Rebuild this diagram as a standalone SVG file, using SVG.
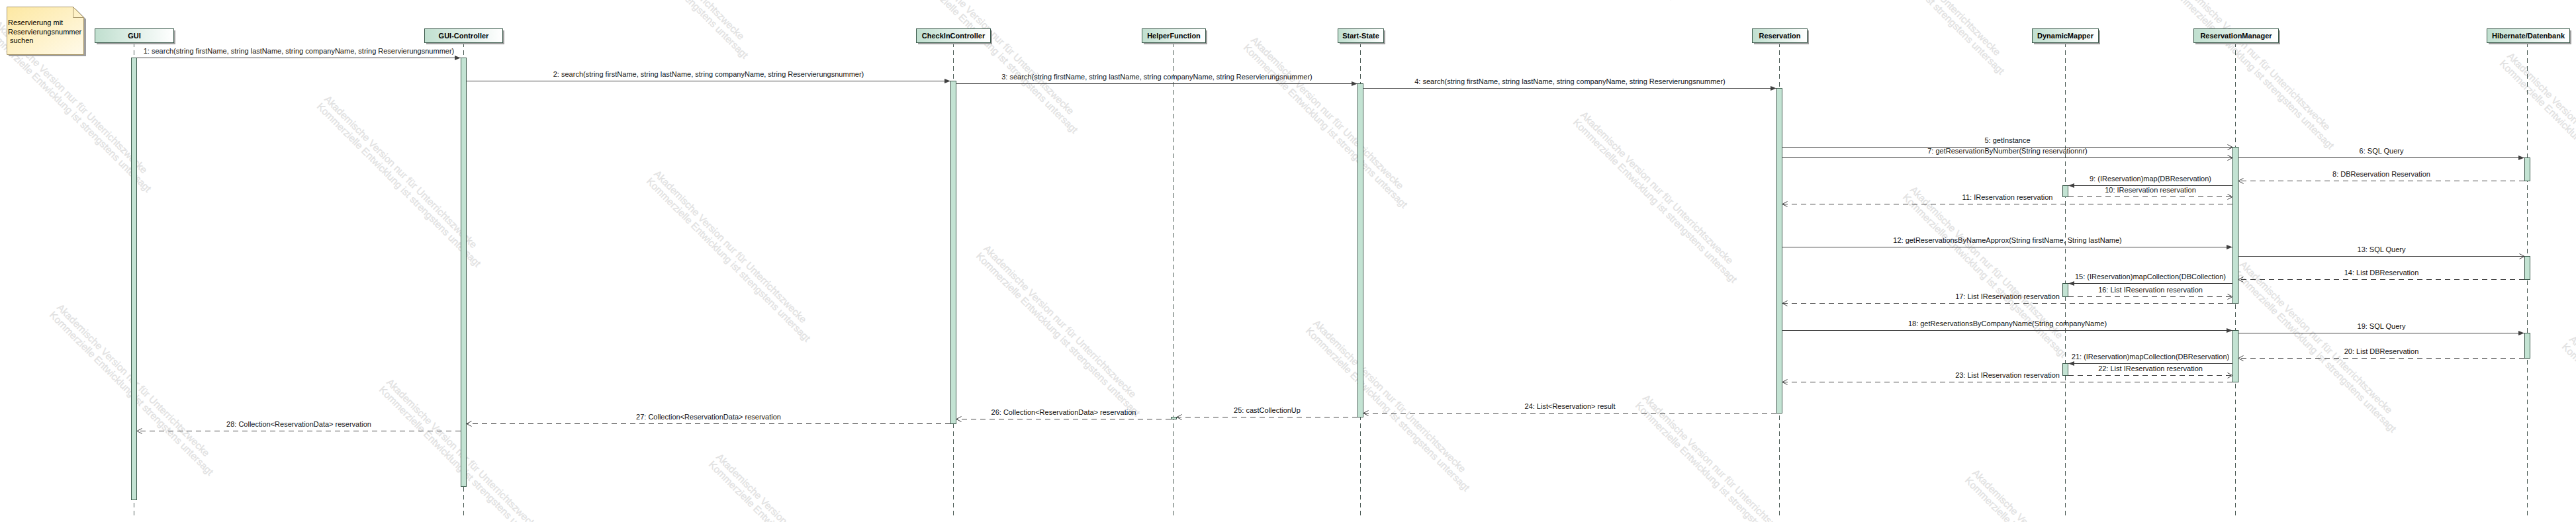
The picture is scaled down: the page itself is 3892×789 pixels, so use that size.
<svg xmlns="http://www.w3.org/2000/svg" xmlns:xlink="http://www.w3.org/1999/xlink" width="3892" height="789" viewBox="0 0 3892 789">
<style>
.wm{font-family:"Liberation Sans",Arial,sans-serif;font-size:15px;fill:#e6e6e6;stroke:#d9d9d9;stroke-width:0.3}
.box{fill:url(#boxg);stroke:#3c5a4c;stroke-width:1}
.shadow{fill:#9e9e9e}
.hdr{font-family:"Liberation Sans",Arial,sans-serif;font-size:11px;font-weight:bold;fill:#000;text-anchor:middle}
.life{stroke:#4a5a54;stroke-width:1;stroke-dasharray:7,5;fill:none}
.act{fill:#c3e3d3;stroke:#3c5a4c;stroke-width:1}
.msg{stroke:#404040;stroke-width:1;fill:none}
.ret{stroke:#404040;stroke-width:1;fill:none;stroke-dasharray:8,6}
.sync{marker-end:url(#filled)}
.opn{marker-end:url(#open)}
.lbl{font-family:"Liberation Sans",Arial,sans-serif;font-size:11px;fill:#111;text-anchor:middle}
.note{fill:url(#noteg);stroke:#a8976a;stroke-width:1}
.ntxt{font-family:"Liberation Sans",Arial,sans-serif;font-size:11px;fill:#000}
</style>
<defs>
<linearGradient id="boxg" x1="0" y1="0" x2="1" y2="0">
<stop offset="0" stop-color="#c0dfcf"/>
<stop offset="1" stop-color="#ffffff"/>
</linearGradient>
<linearGradient id="noteg" x1="0" y1="0" x2="1" y2="1">
<stop offset="0" stop-color="#fde8a2"/>
<stop offset="1" stop-color="#fffaea"/>
</linearGradient>
<marker id="filled" markerWidth="10" markerHeight="8" refX="9" refY="4" orient="auto" markerUnits="userSpaceOnUse">
<path d="M0,0.5 L9,4 L0,7.5 z" fill="#404040" stroke="none"/>
</marker>
<marker id="open" markerWidth="10" markerHeight="10" refX="9" refY="5" orient="auto" markerUnits="userSpaceOnUse">
<path d="M1.5,1 L9,5 L1.5,9" fill="none" stroke="#404040" stroke-width="1" stroke-dasharray="none"/>
</marker>
<g id="wm">
<text class="wm" x="0" y="11">Akademische Version nur für Unterrichtszwecke</text>
<text class="wm" x="0" y="27">Kommerzielle Entwicklung ist strengstens untersagt</text>
</g>
</defs>
<rect x="0" y="0" width="3892" height="789" fill="#ffffff"/>

<g id="watermarks">
<use xlink:href="#wm" transform="translate(2301,-261) rotate(45)"/>
<use xlink:href="#wm" transform="translate(2799,-148) rotate(45)"/>
<use xlink:href="#wm" transform="translate(3297,-35) rotate(45)"/>
<use xlink:href="#wm" transform="translate(3795,78) rotate(45)"/>
<use xlink:href="#wm" transform="translate(901,-172) rotate(45)"/>
<use xlink:href="#wm" transform="translate(1399,-59) rotate(45)"/>
<use xlink:href="#wm" transform="translate(1897,54) rotate(45)"/>
<use xlink:href="#wm" transform="translate(2395,167) rotate(45)"/>
<use xlink:href="#wm" transform="translate(2893,280) rotate(45)"/>
<use xlink:href="#wm" transform="translate(3391,393) rotate(45)"/>
<use xlink:href="#wm" transform="translate(3889,506) rotate(45)"/>
<use xlink:href="#wm" transform="translate(-1,30) rotate(45)"/>
<use xlink:href="#wm" transform="translate(497,143) rotate(45)"/>
<use xlink:href="#wm" transform="translate(995,256) rotate(45)"/>
<use xlink:href="#wm" transform="translate(1493,369) rotate(45)"/>
<use xlink:href="#wm" transform="translate(1991,482) rotate(45)"/>
<use xlink:href="#wm" transform="translate(2489,595) rotate(45)"/>
<use xlink:href="#wm" transform="translate(2987,708) rotate(45)"/>
<use xlink:href="#wm" transform="translate(93,458) rotate(45)"/>
<use xlink:href="#wm" transform="translate(591,571) rotate(45)"/>
<use xlink:href="#wm" transform="translate(1089,684) rotate(45)"/>
</g>

<g id="note">
<path d="M13,13 h101 l16,16 v56 h-117 z" class="shadow"/>
<path d="M10.5,10.5 h100 l16,16 v56 h-116 z" class="note"/>
<path d="M110.5,10.5 v16 h16" fill="none" stroke="#a8976a" stroke-width="1"/>
<text class="ntxt" x="12" y="38">Reservierung mit</text>
<text class="ntxt" x="12" y="51.5">Reservierungsnummer</text>
<text class="ntxt" x="15" y="65">suchen</text>
</g>

<g id="node-gui">
<line class="life" x1="202.5" y1="64" x2="202.5" y2="780"/>
<rect class="shadow" x="146" y="46" width="119" height="21"/>
<rect class="box" x="143.5" y="43.5" width="119" height="21"/>
<text class="hdr" x="203" y="58">GUI</text>
<rect class="act" x="198.5" y="87.5" width="8" height="668"/>
</g>

<g id="node-gui-controller">
<line class="life" x1="700.5" y1="64" x2="700.5" y2="780"/>
<rect class="shadow" x="644" y="46" width="118" height="21"/>
<rect class="box" x="641.5" y="43.5" width="118" height="21"/>
<text class="hdr" x="700.5" y="58">GUI-Controller</text>
<rect class="act" x="696.5" y="87.5" width="8" height="648"/>
</g>

<g id="node-checkincontroller">
<line class="life" x1="1440.5" y1="64" x2="1440.5" y2="780"/>
<rect class="shadow" x="1387" y="46" width="112" height="21"/>
<rect class="box" x="1384.5" y="43.5" width="112" height="21"/>
<text class="hdr" x="1440.5" y="58">CheckInController</text>
<rect class="act" x="1436.5" y="122.5" width="8" height="518"/>
</g>

<g id="node-helperfunction">
<line class="life" x1="1773.5" y1="64" x2="1773.5" y2="780"/>
<rect class="shadow" x="1728" y="46" width="96" height="21"/>
<rect class="box" x="1725.5" y="43.5" width="96" height="21"/>
<text class="hdr" x="1773.5" y="58">HelperFunction</text>
<rect class="act" x="1769.5" y="630.5" width="8" height="3"/>
</g>

<g id="node-start-state">
<line class="life" x1="2055.5" y1="64" x2="2055.5" y2="780"/>
<rect class="shadow" x="2024" y="46" width="69" height="21"/>
<rect class="box" x="2021.5" y="43.5" width="69" height="21"/>
<text class="hdr" x="2056" y="58">Start-State</text>
<rect class="act" x="2051.5" y="126.5" width="8" height="504"/>
</g>

<g id="node-reservation">
<line class="life" x1="2688.5" y1="64" x2="2688.5" y2="780"/>
<rect class="shadow" x="2650" y="46" width="83" height="21"/>
<rect class="box" x="2647.5" y="43.5" width="83" height="21"/>
<text class="hdr" x="2689" y="58">Reservation</text>
<rect class="act" x="2684.5" y="133.5" width="8" height="491"/>
</g>

<g id="node-dynamicmapper">
<line class="life" x1="3120.5" y1="64" x2="3120.5" y2="780"/>
<rect class="shadow" x="3073" y="46" width="100" height="21"/>
<rect class="box" x="3070.5" y="43.5" width="100" height="21"/>
<text class="hdr" x="3120.5" y="58">DynamicMapper</text>
<rect class="act" x="3116.5" y="280.5" width="8" height="17"/>
<rect class="act" x="3116.5" y="428.5" width="8" height="20"/>
<rect class="act" x="3116.5" y="549.5" width="8" height="18"/>
</g>

<g id="node-reservationmanager">
<line class="life" x1="3377.5" y1="64" x2="3377.5" y2="780"/>
<rect class="shadow" x="3317" y="46" width="128" height="21"/>
<rect class="box" x="3314.5" y="43.5" width="128" height="21"/>
<text class="hdr" x="3378.5" y="58">ReservationManager</text>
<rect class="act" x="3373" y="222.5" width="9" height="236"/>
<rect class="act" x="3373" y="499.5" width="9" height="78"/>
</g>

<g id="node-hibernate-datenbank">
<line class="life" x1="3818.5" y1="64" x2="3818.5" y2="780"/>
<rect class="shadow" x="3760" y="46" width="125" height="21"/>
<rect class="box" x="3757.5" y="43.5" width="125" height="21"/>
<text class="hdr" x="3820" y="58">Hibernate/Datenbank</text>
<rect class="act" x="3814.5" y="238.5" width="8" height="35"/>
<rect class="act" x="3814.5" y="387.5" width="8" height="35"/>
<rect class="act" x="3814.5" y="503.5" width="8" height="38"/>
</g>

<g id="connectors">
<line class="msg sync" x1="207" y1="87.5" x2="696" y2="87.5"/>
<text class="lbl" x="451.5" y="81">1:  search(string firstName, string lastName, string companyName, string  Reservierungsnummer)</text>
<line class="msg sync" x1="705" y1="122.5" x2="1436" y2="122.5"/>
<text class="lbl" x="1070.5" y="116">2:  search(string firstName, string lastName, string companyName, string  Reservierungsnummer)</text>
<line class="msg sync" x1="1445" y1="126.5" x2="2051" y2="126.5"/>
<text class="lbl" x="1748" y="120">3:  search(string firstName, string lastName, string companyName, string  Reservierungsnummer)</text>
<line class="msg sync" x1="2060" y1="133.5" x2="2684" y2="133.5"/>
<text class="lbl" x="2372" y="127">4:  search(string firstName, string lastName, string companyName, string  Reservierungsnummer)</text>

<line class="msg opn" x1="2693" y1="222.5" x2="3373" y2="222.5"/>
<text class="lbl" x="3033" y="216">5: getInstance</text>
<line class="msg opn" x1="2693" y1="238.5" x2="3373" y2="238.5"/>
<text class="lbl" x="3033" y="232">7: getReservationByNumber(String reservationnr)</text>
<line class="msg sync" x1="3382" y1="238.5" x2="3814" y2="238.5"/>
<text class="lbl" x="3598" y="232">6: SQL Query</text>
<line class="ret opn" x1="3814" y1="273.5" x2="3382" y2="273.5"/>
<text class="lbl" x="3598" y="267">8: DBReservation Reservation</text>
<line class="msg sync" x1="3373" y1="280.5" x2="3125" y2="280.5"/>
<text class="lbl" x="3249" y="274">9: (IReservation)map(DBReservation)</text>
<line class="ret opn" x1="3125" y1="297.5" x2="3373" y2="297.5"/>
<text class="lbl" x="3249" y="291">10: IReservation reservation</text>
<line class="ret opn" x1="3373" y1="308.5" x2="2693" y2="308.5"/>
<text class="lbl" x="3033" y="302">11: IReservation reservation</text>

<line class="msg sync" x1="2693" y1="373.5" x2="3373" y2="373.5"/>
<text class="lbl" x="3033" y="367">12: getReservationsByNameApprox(String firstName, String lastName)</text>
<line class="msg opn" x1="3382" y1="387.5" x2="3814" y2="387.5"/>
<text class="lbl" x="3598" y="381">13: SQL Query</text>
<line class="ret opn" x1="3814" y1="422.5" x2="3382" y2="422.5"/>
<text class="lbl" x="3598" y="416">14: List DBReservation</text>
<line class="msg sync" x1="3373" y1="428.5" x2="3125" y2="428.5"/>
<text class="lbl" x="3249" y="422">15: (IReservation)mapCollection(DBCollection)</text>
<line class="ret opn" x1="3125" y1="448.5" x2="3373" y2="448.5"/>
<text class="lbl" x="3249" y="442">16: List IReservation reservation</text>
<line class="ret opn" x1="3373" y1="458.5" x2="2693" y2="458.5"/>
<text class="lbl" x="3033" y="452">17: List IReservation reservation</text>

<line class="msg sync" x1="2693" y1="499.5" x2="3373" y2="499.5"/>
<text class="lbl" x="3033" y="493">18: getReservationsByCompanyName(String companyName)</text>
<line class="msg sync" x1="3382" y1="503.5" x2="3814" y2="503.5"/>
<text class="lbl" x="3598" y="497">19: SQL Query</text>
<line class="ret opn" x1="3814" y1="541.5" x2="3382" y2="541.5"/>
<text class="lbl" x="3598" y="535">20: List DBReservation</text>
<line class="msg sync" x1="3373" y1="549.5" x2="3125" y2="549.5"/>
<text class="lbl" x="3249" y="543">21: (IReservation)mapCollection(DBReservation)</text>
<line class="ret opn" x1="3125" y1="567.5" x2="3373" y2="567.5"/>
<text class="lbl" x="3249" y="561">22: List IReservation reservation</text>
<line class="ret opn" x1="3373" y1="577.5" x2="2693" y2="577.5"/>
<text class="lbl" x="3033" y="571">23: List IReservation reservation</text>

<line class="ret opn" x1="2684" y1="624.5" x2="2060" y2="624.5"/>
<text class="lbl" x="2372" y="618">24: List&lt;Reservation&gt; result</text>
<line class="ret opn" x1="2051" y1="630.5" x2="1778" y2="630.5"/>
<text class="lbl" x="1914.5" y="624">25: castCollectionUp</text>
<line class="ret opn" x1="1769" y1="633.5" x2="1445" y2="633.5"/>
<text class="lbl" x="1607" y="627">26: Collection&lt;ReservationData&gt; reservation</text>
<line class="ret opn" x1="1436" y1="640.5" x2="705" y2="640.5"/>
<text class="lbl" x="1070.5" y="634">27: Collection&lt;ReservationData&gt; reservation</text>
<line class="ret opn" x1="696" y1="651.5" x2="207" y2="651.5"/>
<text class="lbl" x="451.5" y="645">28: Collection&lt;ReservationData&gt; reservation</text>
</g>
</svg>
